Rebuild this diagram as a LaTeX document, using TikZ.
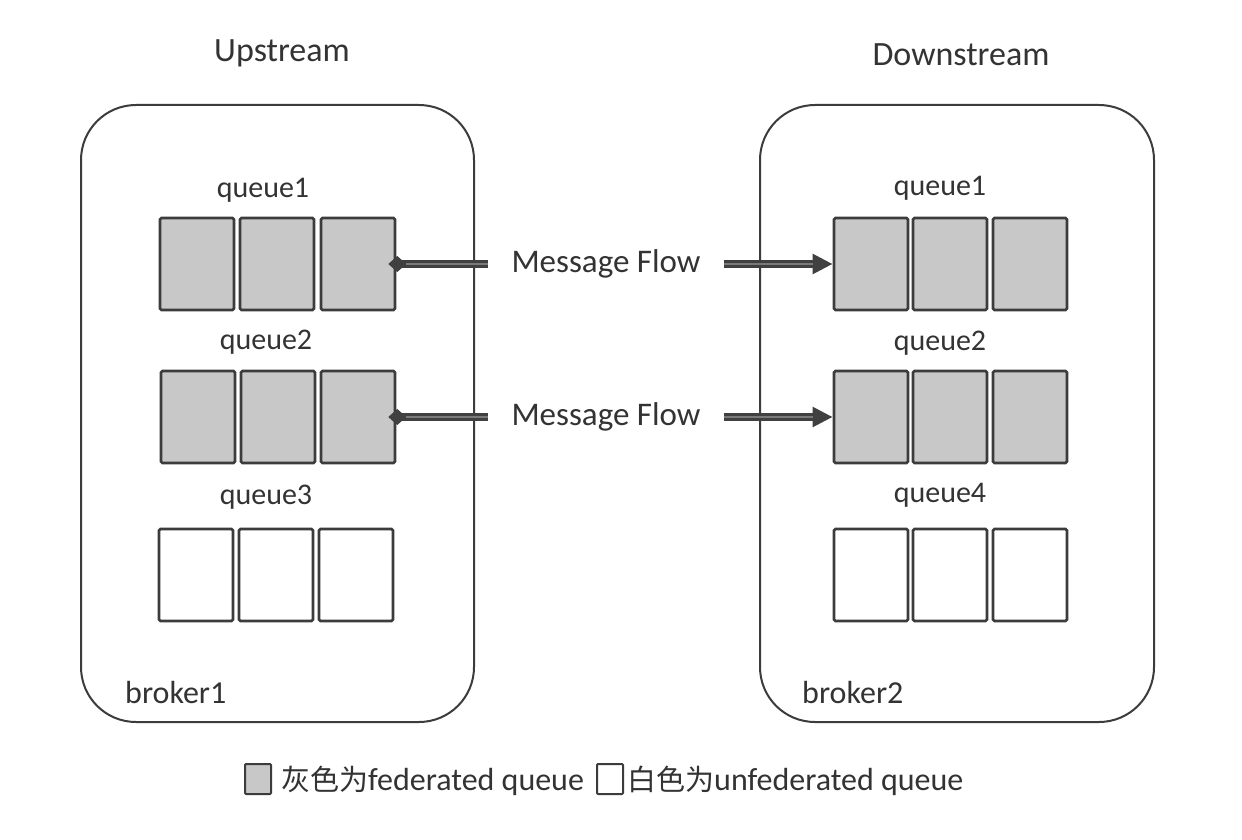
\documentclass[tikz,border=0pt]{standalone}
\usepackage{fontspec}
\setmainfont{Carlito}
\newfontfamily\cjk{Noto Sans CJK SC}
\usetikzlibrary{arrows.meta}
\definecolor{txt}{HTML}{333333}
\definecolor{edge}{HTML}{3C3C3C}
\definecolor{qfill}{HTML}{C8C8C8}
\definecolor{flowdark}{HTML}{404040}
\definecolor{flowmid}{HTML}{7A7A7A}
\tikzset{
  broker/.style={draw=edge, line width=2pt, rounded corners=55pt, inner sep=0pt},
  cellbox/.style={draw=edge, line width=2.6pt, minimum width=74pt, minimum height=92pt, inner sep=0pt, rounded corners=1.5pt},
  fedcell/.style={cellbox, fill=qfill},
  plaincell/.style={cellbox, fill=white},
  qlabel/.style={font=\fontsize{30}{34}\selectfont, text=txt, inner sep=0pt},
  title/.style={font=\fontsize{34}{38}\selectfont, text=txt, inner sep=0pt},
  flowlabel/.style={font=\fontsize{33}{38}\selectfont, text=txt, inner xsep=23pt, inner ysep=0pt},
  flowline/.style={draw=flowdark, line width=8pt},
  flowcore/.style={draw=flowmid, line width=2pt},
  legbox/.style={draw=edge, line width=2pt, minimum width=26pt, minimum height=30pt, inner sep=0pt, rounded corners=1pt},
  legtext/.style={font=\fontsize{32}{36}\selectfont, text=txt, inner sep=0pt, anchor=base west},
}
\begin{document}
\begin{tikzpicture}[x=1pt,y=-1pt]
\useasboundingbox[fill=white] (0,0) rectangle (1242,840);

% titles
\node[title] (up) at (282,53) {Upstream};
\node[title] (down) at (961,55) {Downstream};

% brokers
\node[broker, minimum width=393pt, minimum height=617pt] (b1) at (277.5,413.5) {};
\node[broker, minimum width=394pt, minimum height=617pt] (b2) at (957,413.5) {};
\node[qlabel, font=\fontsize{32}{36}\selectfont, anchor=base west] (b1lab) at (125,703) {broker1};
\node[qlabel, font=\fontsize{32}{36}\selectfont, anchor=base west] (b2lab) at (802,703) {broker2};

% left queues
\node[qlabel] (lq1) at (263,190) {queue1};
\node[fedcell] (L1a) at (197,264) {};
\node[fedcell] (L1b) at (277,264) {};
\node[fedcell] (L1c) at (358,264) {};

\node[qlabel] (lq2) at (266,342) {queue2};
\node[fedcell] (L2a) at (198,417) {};
\node[fedcell] (L2b) at (278,417) {};
\node[fedcell] (L2c) at (358,417) {};

\node[qlabel] (lq3) at (266,497) {queue3};
\node[plaincell] (L3a) at (196,575) {};
\node[plaincell] (L3b) at (276,575) {};
\node[plaincell] (L3c) at (356,575) {};

% right queues
\node[qlabel] (rq1) at (940,188) {queue1};
\node[fedcell] (R1a) at (871,264) {};
\node[fedcell] (R1b) at (950,264) {};
\node[fedcell] (R1c) at (1030,264) {};

\node[qlabel] (rq2) at (940,343) {queue2};
\node[fedcell] (R2a) at (871,417) {};
\node[fedcell] (R2b) at (950,417) {};
\node[fedcell] (R2c) at (1030,417) {};

\node[qlabel] (rq4) at (940,495) {queue4};
\node[plaincell] (R3a) at (871,575) {};
\node[plaincell] (R3b) at (950,575) {};
\node[plaincell] (R3c) at (1030,575) {};

% message flows
\node[flowlabel] (m1) at (606,264) {Message Flow};
\node[flowlabel] (m2) at (606,417) {Message Flow};

\foreach \s/\m/\t in {L1c/m1/R1a, L2c/m2/R2a}{
  \draw[flowline, {Diamond[length=18pt,width=16pt]}-] ([xshift=-8pt]\s.east) -- (\m.west);
  \draw[flowcore] ([xshift=10pt]\s.east) -- (\m.west);
  \draw[flowline, -{Triangle[length=20pt,width=19pt]}] (\m.east) -- (\t.west);
  \draw[flowcore] (\m.east) -- ([xshift=-20pt]\t.west);
}

% legend
\node[legbox, fill=qfill] (lg1) at (258,779) {};
\node[legtext] (lt1) at (281,790) {{\cjk\fontsize{29}{33}\selectfont 灰色为}federated queue};
\node[legbox, fill=white] (lg2) at (610,779) {};
\node[legtext] (lt2) at (627,790) {{\cjk\fontsize{29}{33}\selectfont 白色为}unfederated queue};
\end{tikzpicture}
\end{document}
